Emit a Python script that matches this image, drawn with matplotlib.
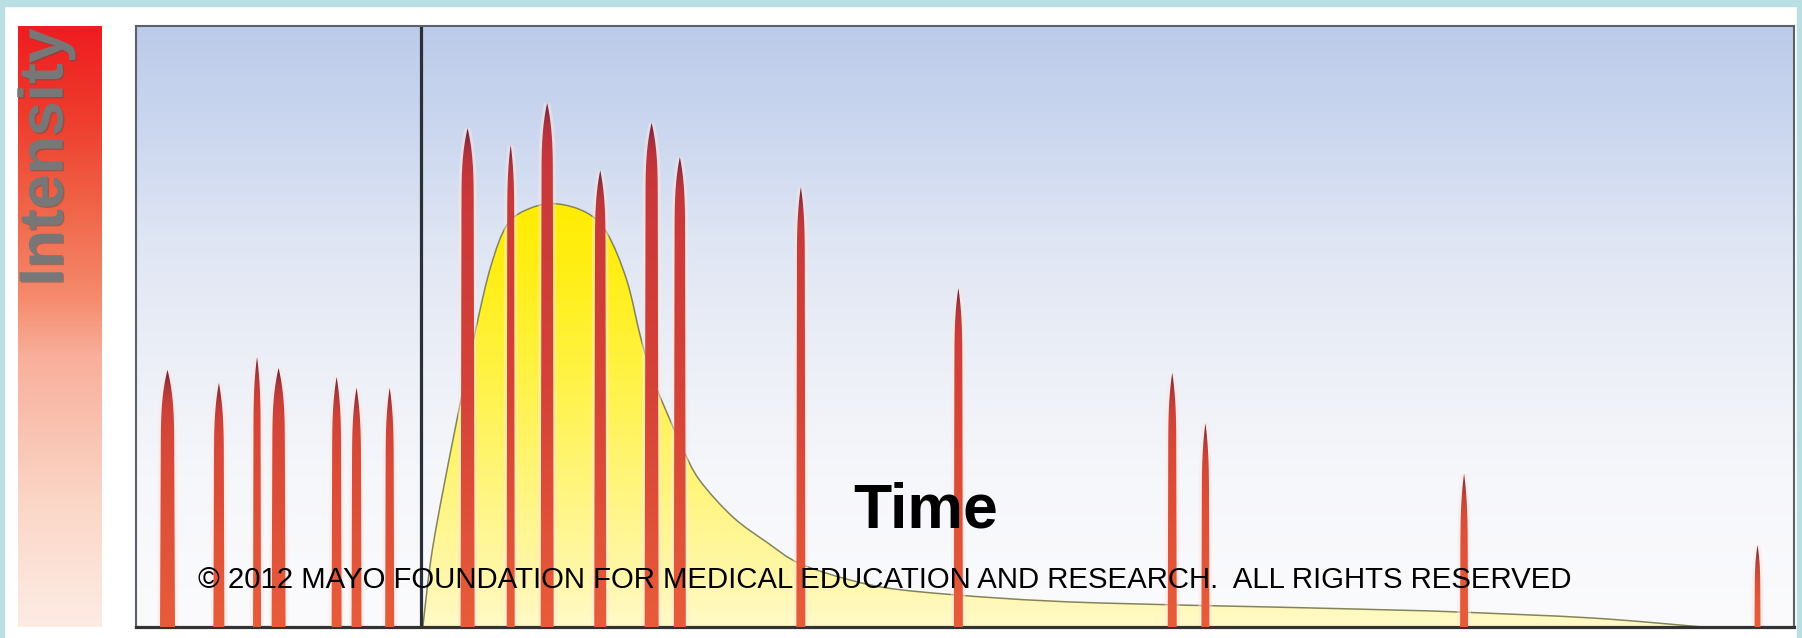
import numpy as np
import matplotlib.pyplot as plt
from matplotlib.patches import Polygon, Rectangle, PathPatch
from matplotlib.path import Path
import matplotlib.patheffects as pe

W, H, DPI = 1802, 638, 100

# spikes: time position and peak intensity (axis units 0..100)
spike_time = [1.9, 5.0, 7.3, 8.6, 12.1, 13.3, 15.3, 20.0, 22.6, 24.8,
              28.0, 31.1, 32.8, 40.1, 49.6, 62.5, 64.5, 80.1, 97.8]
spike_height = [42.8, 40.6, 44.9, 43.1, 41.6, 39.8, 39.8, 83.0, 80.2, 87.2,
                76.0, 83.9, 78.2, 73.2, 56.4, 42.3, 33.9, 25.5, 13.6]
spike_width_px = [15, 11, 8, 14, 10, 10, 9, 14, 8, 13,
                  12, 14, 12, 9, 9, 9, 8, 8, 6]

# yellow response curve
curve_time = [17.3, 17.9, 19.2, 20.5, 21.4, 22.4, 23.8, 25.4, 27.2, 28.4,
              29.6, 30.5, 31.3, 32.2, 33.0, 34.0, 36.0, 38.1, 40.0, 43.1,
              46.1, 52.1, 58.1, 68.9, 76.2, 79.7, 87.8, 94.5]
curve_level = [0.0, 13.3, 32.3, 49.6, 60.0, 67.0, 69.7, 70.4, 68.9, 65.6,
               57.7, 47.5, 40.5, 34.5, 29.5, 24.4, 18.3, 14.0, 10.6, 7.8,
               6.2, 4.8, 4.0, 3.3, 2.8, 2.5, 1.5, 0.0]

stim_time = 17.2


def smooth_path(xs, ys, close_bottom=False):
    # catmull-rom through the read points, drawn as cubic beziers
    p = np.column_stack([xs, ys])
    pp = np.vstack([p[:1], p, p[-1:]])
    verts = [p[0]]
    codes = [Path.MOVETO]
    for i in range(1, len(pp) - 2):
        c1 = pp[i] + (pp[i + 1] - pp[i - 1]) / 6.0
        c2 = pp[i + 1] - (pp[i + 2] - pp[i]) / 6.0
        verts += [c1, c2, pp[i + 1]]
        codes += [Path.CURVE4] * 3
    if close_bottom:
        verts += [(xs[0], 0), (xs[0], 0)]
        codes += [Path.LINETO, Path.CLOSEPOLY]
    return Path(np.array(verts), codes)


fig = plt.figure(figsize=(W / DPI, H / DPI), dpi=DPI)
fig.patch.set_facecolor('white')

# teal frame
teal = '#b9dfe3'
fig.patches.append(Rectangle((0, 1 - 6 / H), 1, 6 / H, transform=fig.transFigure, color=teal, zorder=0))
fig.patches.append(Rectangle((0, 0), 4 / W, 1, transform=fig.transFigure, color=teal, zorder=0))
fig.patches.append(Rectangle((1 - 5 / W, 0), 5 / W, 1, transform=fig.transFigure, color=teal, zorder=0))

# intensity bar
axb = fig.add_axes([18 / W, 11 / H, 84 / W, 601 / H])
t = np.linspace(0, 1, 300)  # 0 bottom, 1 top
stops = [0.0, 0.2, 0.45, 0.55, 0.7, 0.85, 1.0]
rs = [253, 251, 248, 245, 240, 238, 240]
gs = [236, 215, 175, 138, 100, 60, 28]
bs = [228, 200, 155, 108, 72, 45, 32]
bar = np.stack([np.interp(t, stops, rs), np.interp(t, stops, gs), np.interp(t, stops, bs)], -1) / 255
axb.imshow(bar[:, None, :], extent=[0, 1, 0, 1], origin='lower', aspect='auto', interpolation='bilinear')
axb.axis('off')

fig.text(46 / W, 1 - 157 / H, 'Intensity', rotation=90, ha='center', va='center',
         fontsize=45, fontweight='bold', color='#777777', family='Liberation Sans', zorder=5,
         path_effects=[pe.withSimplePatchShadow(offset=(1, -1), shadow_rgbFace='#555555', alpha=0.5)])

# main axes
ax = fig.add_axes([136 / W, 11 / H, 1658 / W, 601 / H])
ax.set_xlim(0, 100)
ax.set_ylim(0, 100)
pxx = 1658 / 100.0
pxy = 601 / 100.0

# background gradient
stops = [0.0, 0.25, 0.45, 0.65, 0.8, 1.0]
rs = [251, 246, 236, 222, 206, 188]
gs = [251, 247, 239, 229, 217, 203]
bs = [253, 251, 247, 243, 240, 234]
bg = np.stack([np.interp(t, stops, rs), np.interp(t, stops, gs), np.interp(t, stops, bs)], -1) / 255
ax.imshow(bg[:, None, :], extent=[0, 100, 0, 100], origin='lower', aspect='auto',
          interpolation='bilinear', zorder=0)

# yellow response area
cx = np.array(curve_time)
cy = np.array(curve_level)
fill_patch = PathPatch(smooth_path(cx, cy, close_bottom=True), facecolor='none', edgecolor='none',
                       transform=ax.transData)
ax.add_patch(fill_patch)
ty = np.linspace(0, 72, 300)
ystops = [0, 8, 25, 45, 60, 72]
yr = [255, 255, 255, 255, 255, 255]
yg = [250, 247, 245, 242, 238, 236]
yb = [200, 170, 120, 60, 20, 0]
yimg = np.stack([np.interp(ty, ystops, yr), np.interp(ty, ystops, yg), np.interp(ty, ystops, yb)], -1) / 255
im = ax.imshow(yimg[:, None, :], extent=[cx.min(), cx.max(), 0, 72], origin='lower', aspect='auto',
               interpolation='bilinear', zorder=1)
im.set_clip_path(fill_patch)
ax.add_patch(PathPatch(smooth_path(cx, cy), facecolor='none', edgecolor='#84845a', lw=1.1, zorder=1.5))

# stimulus line
ax.axvline(stim_time, color='#2b2f38', lw=2.3, zorder=2)

# spikes
for xc, hgt, wpx in zip(spike_time, spike_height, spike_width_px):
    hpx = hgt * pxy
    L = min(75.0, 0.55 * hpx)
    d = np.linspace(0, hpx, 200)
    tt = np.clip(d / L, 0, 1)
    hw = wpx / 2 * (1 - (1 - tt) ** 3) * (0.85 + 0.15 * d / hpx)
    ys = hgt - d / pxy
    pts = np.column_stack([np.r_[xc - hw / pxx, (xc + hw / pxx)[::-1]], np.r_[ys, ys[::-1]]])
    # soft halo
    hwg = hw + 3
    glow = np.column_stack([np.r_[xc - hwg / pxx, (xc + hwg / pxx)[::-1]], np.r_[ys, ys[::-1]]])
    ax.add_patch(Polygon(glow, closed=True, facecolor=(1, 0.9, 0.88), edgecolor='none',
                         alpha=0.45, zorder=2.5))
    poly = Polygon(pts, closed=True, facecolor='none', edgecolor='none', transform=ax.transData)
    ax.add_patch(poly)
    yy = np.linspace(0, hgt, 300)
    base = np.stack([np.interp(yy, [0, 40, 90], [232, 212, 198]),
                     np.interp(yy, [0, 40, 90], [92, 66, 52]),
                     np.interp(yy, [0, 40, 90], [58, 56, 60])], -1)
    dd = (hgt - yy) * pxy
    w = np.exp(-dd / 16.0)[:, None]
    col = (base * (1 - w) + np.array([85, 32, 62]) * w) / 255
    si = ax.imshow(col[:, None, :], extent=[xc - wpx / pxx, xc + wpx / pxx, 0, hgt], origin='lower',
                   aspect='auto', interpolation='bilinear', zorder=3)
    si.set_clip_path(poly)

ax.set_xlim(0, 100)
ax.set_ylim(0, 100)
ax.set_xticks([])
ax.set_yticks([])
for s in ['left', 'top', 'right']:
    ax.spines[s].set_color('#5c6068')
    ax.spines[s].set_linewidth(1.5)
ax.spines['bottom'].set_color('#333333')
ax.spines['bottom'].set_linewidth(2.3)

fig.text(926 / W, 1 - 528 / H, 'Time', ha='center', va='baseline', fontsize=45,
         fontweight='bold', color='black', family='Liberation Sans', zorder=5)
fig.text(198 / W, 1 - 588 / H,
         '\u00a9 2012 MAYO FOUNDATION FOR MEDICAL EDUCATION AND RESEARCH.  ALL RIGHTS RESERVED',
         ha='left', va='baseline', fontsize=21.2, color='black', family='Liberation Sans', zorder=5)

fig.savefig('out.png', dpi=DPI)
